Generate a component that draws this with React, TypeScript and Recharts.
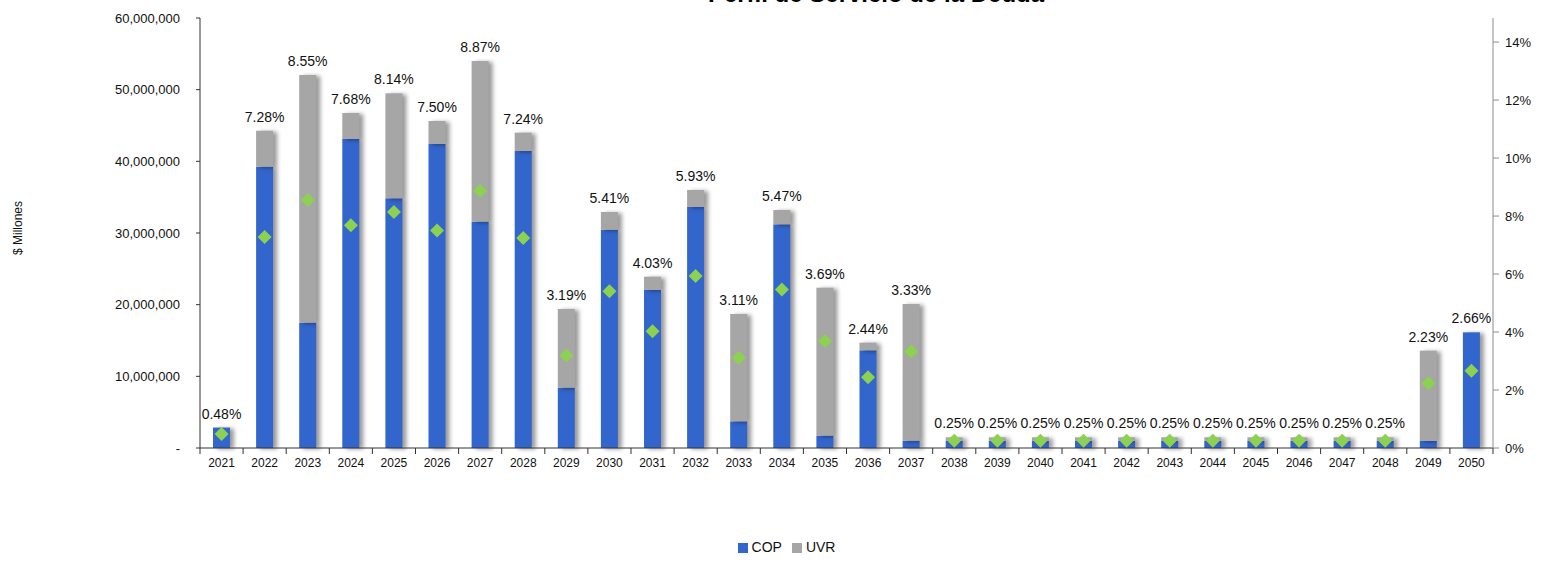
import * as React from "react";
import {
  Bar,
  ComposedChart,
  LabelList,
  Legend,
  Line,
  XAxis,
  YAxis,
} from "recharts";

// Años del perfil
const years = [
  "2021", "2022", "2023", "2024", "2025", "2026", "2027", "2028", "2029", "2030",
  "2031", "2032", "2033", "2034", "2035", "2036", "2037", "2038", "2039", "2040",
  "2041", "2042", "2043", "2044", "2045", "2046", "2047", "2048", "2049", "2050",
];

// Servicio en COP ($ millones)
const cop = [
  2850000, 39250000, 17490000, 43120000, 34840000, 42420000, 31580000, 41440000, 8420000, 30460000,
  22050000, 33630000, 3720000, 31210000, 1720000, 13630000, 1020000, 980000, 980000, 980000,
  980000, 980000, 980000, 980000, 980000, 980000, 980000, 980000, 980000, 16140000,
];

// Servicio en UVR ($ millones)
const uvr = [
  0, 5020000, 34560000, 3620000, 14650000, 3210000, 22420000, 2560000, 10980000, 2470000,
  1850000, 2370000, 14980000, 2000000, 20650000, 1070000, 19070000, 510000, 510000, 510000,
  510000, 510000, 510000, 510000, 510000, 510000, 510000, 510000, 12600000, 0,
];

// Porcentaje (eje derecho)
const rates = [
  0.0048, 0.0728, 0.0855, 0.0768, 0.0814, 0.075, 0.0887, 0.0724, 0.0319, 0.0541,
  0.0403, 0.0593, 0.0311, 0.0547, 0.0369, 0.0244, 0.0333, 0.0025, 0.0025, 0.0025,
  0.0025, 0.0025, 0.0025, 0.0025, 0.0025, 0.0025, 0.0025, 0.0025, 0.0223, 0.0266,
];

const leftTicks = [0, 10000000, 20000000, 30000000, 40000000, 50000000, 60000000];
const rightTicks = [0, 0.02, 0.04, 0.06, 0.08, 0.1, 0.12, 0.14];

const data = years.map((year, i) => ({
  year,
  COP: cop[i],
  UVR: uvr[i],
  rate: rates[i],
}));

const FONT = '"Liberation Sans", Arial, sans-serif';
const BLUE = "#3366CC";
const GRAY = "#A6A6A6";
const GREEN = "#8CD14F";
const BAND = 1293 / 30;

const ShadowBar = (props: any) => {
  const { x, y, width, height, fill } = props;
  if (!height || height <= 0) return null;
  return (
    <rect
      x={x}
      y={y}
      width={width}
      height={height}
      fill={fill}
      style={{ filter: "drop-shadow(4px 1px 2px rgba(0,0,0,0.4))" }}
    />
  );
};

const Diamond = (props: any) => {
  const { cx, cy } = props;
  if (cx == null || cy == null) return null;
  const r = 7;
  return (
    <path
      d={`M${cx},${cy - r} L${cx + r},${cy} L${cx},${cy + r} L${cx - r},${cy} Z`}
      fill={GREEN}
    />
  );
};

const YearTick = (props: any) => {
  const { x, y, payload, index } = props;
  const left = x - BAND / 2;
  return (
    <g>
      <line x1={left} x2={left} y1={y} y2={y + 6} stroke="#333" />
      {index === years.length - 1 && (
        <line x1={x + BAND / 2} x2={x + BAND / 2} y1={y} y2={y + 6} stroke="#333" />
      )}
      <text x={x} y={y + 19} textAnchor="middle" fontSize={12} fill="#111" fontFamily={FONT}>
        {payload.value}
      </text>
    </g>
  );
};

const fmtMoney = (v: number) => (v === 0 ? "-" : v.toLocaleString("en-US"));
const fmtPct = (v: number) => `${(v * 100).toFixed(2)}%`;

export default function App() {
  return (
    <div style={{ position: "absolute", left: 0, top: 0 }}>
      <ComposedChart
        width={1543}
        height={564}
        data={data}
        margin={{ top: 18, right: 0, left: 0, bottom: 5 }}
        barCategoryGap={0}
      >
        {/* title sits partly above the top edge, as in the source image */}
        <text
          x={876}
          y={2}
          textAnchor="middle"
          fontSize={24}
          fontWeight="bold"
          fontFamily={FONT}
          fill="#000"
        >
          Perfil de Servicio de la Deuda
        </text>
        <text
          x={22}
          y={228}
          transform="rotate(-90 22 228)"
          textAnchor="middle"
          fontSize={12}
          fontFamily={FONT}
          fill="#111"
        >
          $ Millones
        </text>

        <XAxis
          dataKey="year"
          height={91}
          tickLine={false}
          tickSize={0}
          tickMargin={0}
          stroke="#333"
          tick={<YearTick />}
          interval={0}
        />
        <YAxis
          yAxisId="left"
          width={200}
          domain={[0, 60000000]}
          ticks={leftTicks}
          tickFormatter={fmtMoney}
          stroke="#333"
          tickSize={4}
          tickMargin={16}
          tick={{ fontSize: 13, fill: "#111", fontFamily: FONT }}
          interval={0}
        />
        <YAxis
          yAxisId="right"
          orientation="right"
          width={50}
          domain={[0, 0.1483]}
          ticks={rightTicks}
          tickFormatter={(v: number) => `${Math.round(v * 100)}%`}
          stroke="#8C8C8C"
          tickSize={6}
          tickMargin={6}
          tick={{ fontSize: 13, fill: "#111", fontFamily: FONT, textAnchor: "start" }}
          allowDataOverflow
          interval={0}
        />

        <Legend
          verticalAlign="bottom"
          align="center"
          height={20}
          iconType="square"
          iconSize={10}
          wrapperStyle={{ fontFamily: FONT, fontSize: 14, color: "#111", paddingLeft: 20 }}
          formatter={(value: string) => <span style={{ color: "#111" }}>{value}</span>}
          payload={[
            { value: "COP", type: "square", color: BLUE, id: "COP" },
            { value: "UVR", type: "square", color: GRAY, id: "UVR" },
          ]}
        />

        <Bar
          yAxisId="left"
          dataKey="COP"
          stackId="s"
          fill={BLUE}
          barSize={17}
          shape={<ShadowBar />}
          isAnimationActive={false}
        />
        <Bar
          yAxisId="left"
          dataKey="UVR"
          stackId="s"
          fill={GRAY}
          barSize={17}
          shape={<ShadowBar />}
          isAnimationActive={false}
        >
          <LabelList
            dataKey="rate"
            position="top"
            offset={9}
            formatter={(v: any) => fmtPct(Number(v))}
            style={{ fontSize: 14, fill: "#111", fontFamily: FONT }}
          />
        </Bar>
        <Line
          yAxisId="right"
          dataKey="rate"
          stroke="none"
          dot={<Diamond />}
          activeDot={false}
          legendType="none"
          isAnimationActive={false}
        />
      </ComposedChart>
    </div>
  );
}
